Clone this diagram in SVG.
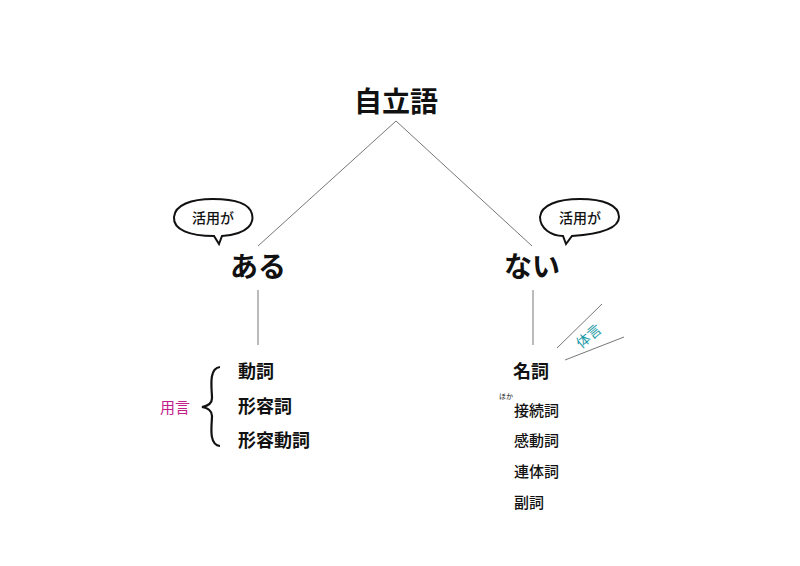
<svg xmlns="http://www.w3.org/2000/svg" width="800" height="566" viewBox="0 0 800 566">
<style>
text{font-family:"Noto Sans CJK JP","Noto Sans",sans-serif;fill:#111}
.b{font-weight:bold}
.m{font-weight:500}
.ln{stroke:#777;stroke-width:1;fill:none}
.bub{fill:#fff;stroke:#111;stroke-width:2}
</style>
<rect width="800" height="566" fill="#fff"/>
<g id="connectors">
<line class="ln" x1="396" y1="121" x2="258" y2="246"/>
<line class="ln" x1="396" y1="121" x2="532" y2="246"/>
<line class="ln" x1="258" y1="290" x2="258" y2="345"/>
<line class="ln" x1="533" y1="290" x2="533" y2="345"/>
<line class="ln" x1="602" y1="304" x2="557" y2="348"/>
<line class="ln" x1="624" y1="337" x2="565" y2="360"/>
</g>
<g id="root"><text class="b" x="396" y="112" font-size="28" text-anchor="middle">自立語</text></g>
<g id="bubble-left">
<path class="bub" d="M222,236 C250,234 254,222 252,214 C249,202 233,199 213,199 C191,199 175,205 174,217 C173,230 190,236 214,236 L219,244 Z"/>
<text class="m" x="213" y="223" font-size="14" text-anchor="middle">活用が</text>
</g>
<g id="bubble-right">
<path class="bub" d="M572,236 C600,234 619,229 619,217 C619,205 603,199 580,199 C558,199 541,205 540,217 C540,229 552,236 563,236 L566,244 Z"/>
<text class="m" x="580" y="223" font-size="14" text-anchor="middle">活用が</text>
</g>
<g id="aru"><text class="b" x="258" y="277" font-size="28" text-anchor="middle">ある</text></g>
<g id="nai"><text class="b" x="532" y="277" font-size="28" text-anchor="middle">ない</text></g>
<g id="taigen"><text x="592" y="340" font-size="14" style="fill:#1a9aa6" text-anchor="middle" transform="rotate(-40 592 340)">体言</text></g>
<g id="yougen">
<text x="160" y="413" font-size="15" style="fill:#c0208a">用言</text>
<path d="M220,367 C208,368 212,390 212,398 C212,404 208,406 202,407 C208,408 212,410 212,416 C212,424 208,445 220,446" fill="none" stroke="#111" stroke-width="2.2"/>
</g>
<g id="left-list">
<text class="b" x="238" y="378" font-size="18">動詞</text>
<text class="b" x="238" y="413" font-size="18">形容詞</text>
<text class="b" x="238" y="447" font-size="18">形容動詞</text>
</g>
<g id="right-list">
<text class="b" x="513" y="378" font-size="18">名詞</text>
<text x="499" y="399" font-size="7">ほか</text>
<text class="m" x="514" y="416" font-size="15">接続詞</text>
<text class="m" x="514" y="446" font-size="15">感動詞</text>
<text class="m" x="514" y="477" font-size="15">連体詞</text>
<text class="m" x="514" y="508" font-size="15">副詞</text>
</g>
</svg>
